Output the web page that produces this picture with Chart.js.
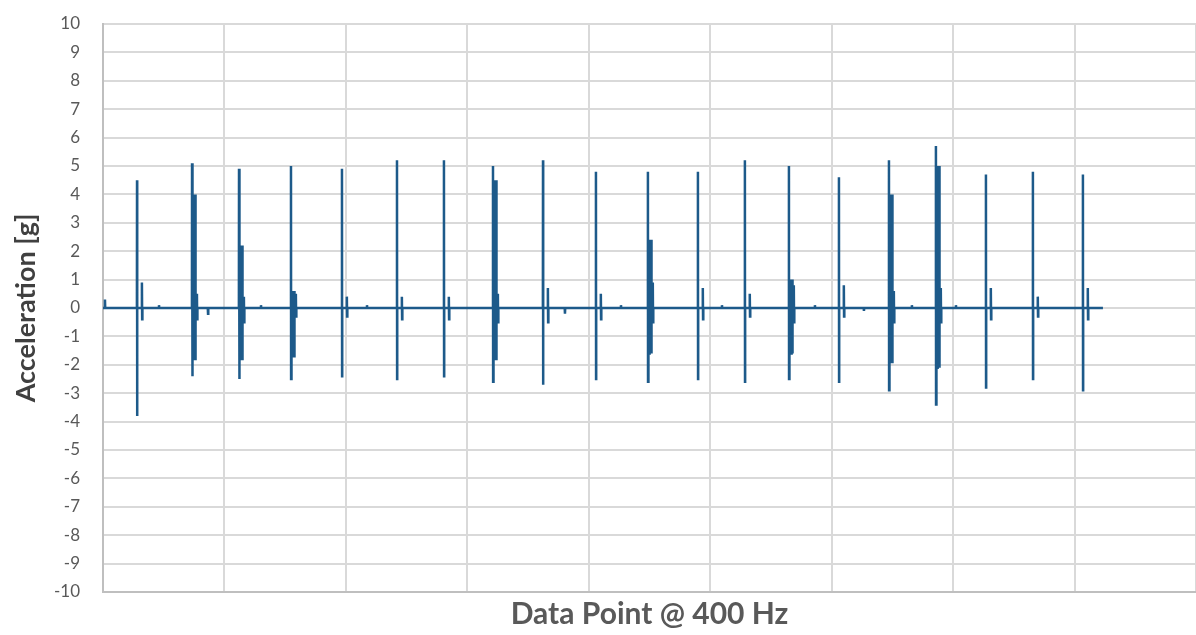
<!DOCTYPE html>
<html>
<head>
<meta charset="utf-8">
<script src="https://cdn.jsdelivr.net/npm/chart.js@4"></script>
<style>
  html, body { margin: 0; padding: 0; background: #fff; }
  #wrap { width: 1196px; height: 635px; }
</style>
</head>
<body>
<div id="wrap"><canvas id="accChart"></canvas></div>
<script>
// impact spikes, x in data points (400 Hz samples)
const spikeAt    = [279, 730, 1115, 1541, 1959, 2410, 2795, 3197, 3607, 4041, 4467, 4877, 5262, 5623, 6033, 6443, 6828, 7238, 7623, 8033];
const spikeHigh  = [4.5, 5.1, 4.9, 5.0, 4.9, 5.2, 5.2, 5.0, 5.2, 4.8, 4.8, 4.8, 5.2, 5.0, 4.6, 5.2, 5.7, 4.7, 4.8, 4.7];
const spikeLow   = [-3.8, -2.4, -2.5, -2.5, -2.4, -2.5, -2.4, -2.6, -2.7, -2.5, -2.6, -2.5, -2.6, -2.5, -2.6, -2.9, -3.4, -2.8, -2.5, -2.9];
// dense ringing right after the hit (0 = none)
const tailHigh   = [0, 4.0, 2.2, 0.6, 0, 0, 0, 4.5, 0, 0, 2.4, 0, 0, 1.0, 0, 4.0, 5.0, 0, 0, 0];
const tailLow    = [0, -1.8, -1.8, -1.7, 0, 0, 0, -1.8, 0, 0, -1.6, 0, 0, -1.6, 0, -1.9, -2.1, 0, 0, 0];
// small rebound a few samples later
const ringHigh   = [0.9, 0.5, 0.4, 0.5, 0.4, 0.4, 0.4, 0.5, 0.7, 0.5, 0.9, 0.7, 0.5, 0.8, 0.8, 0.6, 0.7, 0.7, 0.4, 0.7];
const ringLow    = [-0.4, -0.4, -0.5, -0.3, -0.3, -0.4, -0.4, -0.5, -0.5, -0.4, -0.5, -0.4, -0.3, -0.5, -0.3, -0.5, -0.5, -0.4, -0.3, -0.4];
// little blips between hits
const blipAt     = [16, 459, 861, 1295, 2164, 3787, 4246, 5074, 5836, 6238, 6631, 6992];
const blipValue  = [0.3, 0.1, -0.2, 0.1, 0.1, -0.2, 0.1, 0.1, 0.1, -0.1, 0.1, 0.1];
const lastPoint  = 8197;

const yTicks = [];
for (let v = -10; v <= 10; v++) yTicks.push(v);

// sample offsets used for the dense ringing block
const tailSteps = [3, 5, 7, 9, 11, 13, 15, 17, 19, 21, 23, 25, 27, 29];

let pts = [{ x: 0, y: 0 }];
for (let i = 0; i < spikeAt.length; i++) {
    const x0 = spikeAt[i];
    pts.push({ x: x0 - 1, y: 0 }, { x: x0, y: spikeHigh[i] }, { x: x0 + 1, y: spikeLow[i] }, { x: x0 + 2, y: 0 });
    if (tailHigh[i]) {
        tailSteps.forEach((dx, k) => {
            pts.push({ x: x0 + dx, y: k % 2 ? tailLow[i] : tailHigh[i] });
        });
        pts.push({ x: x0 + 30, y: 0 });
    }
    pts.push({ x: x0 + 39, y: 0 }, { x: x0 + 40, y: ringHigh[i] }, { x: x0 + 42, y: ringLow[i] }, { x: x0 + 44, y: 0 });
}
for (let i = 0; i < blipAt.length; i++) {
    pts.push({ x: blipAt[i] - 2, y: 0 }, { x: blipAt[i], y: blipValue[i] }, { x: blipAt[i] + 2, y: 0 });
}
pts.push({ x: lastPoint, y: 0 });
pts.sort((a, b) => a.x - b.x);

const ctx = document.getElementById('accChart').getContext('2d');
new Chart(ctx, {
    type: 'line',
    data: {
        datasets: [{
            data: pts,
            borderColor: '#1d5a8a',
            borderWidth: 2.5,
            pointRadius: 0,
            tension: 0,
            fill: false
        }]
    },
    options: {
        responsive: true,
        maintainAspectRatio: false,
        animation: false,
        layout: { padding: { top: 24, right: 0, left: 0, bottom: 0 } },
        plugins: { legend: { display: false }, tooltip: { enabled: false } },
        scales: {
            x: {
                type: 'linear',
                min: 0,
                max: 8960,
                ticks: { display: false, stepSize: 1000 },
                grid: { color: '#d9d9d9', lineWidth: 2, drawTicks: false },
                border: { color: '#bfbfbf', width: 2 },
                title: {
                    display: true,
                    text: 'Data Point @ 400 Hz',
                    color: '#595959',
                    font: { family: 'Lato', size: 30, weight: 'bold' },
                    padding: { top: 0, bottom: 3 }
                },
                afterFit: s => { s.height = 43; }
            },
            y: {
                min: -10,
                max: 10,
                afterBuildTicks: s => { s.ticks = yTicks.map(v => ({ value: v })); },
                ticks: { color: '#595959', padding: 23, font: { family: 'Lato', size: 17 } },
                grid: { color: '#d9d9d9', lineWidth: 2, drawTicks: false },
                border: { color: '#bfbfbf', width: 2 },
                title: {
                    display: true,
                    text: 'Acceleration [g]',
                    color: '#404040',
                    font: { family: 'Lato', size: 27, weight: 'bold' },
                    padding: { top: 10, bottom: 0 }
                },
                afterFit: s => { s.width = 103; s.paddingTop = 0; s.paddingBottom = 0; }
            }
        }
    }
});
</script>
</body>
</html>
